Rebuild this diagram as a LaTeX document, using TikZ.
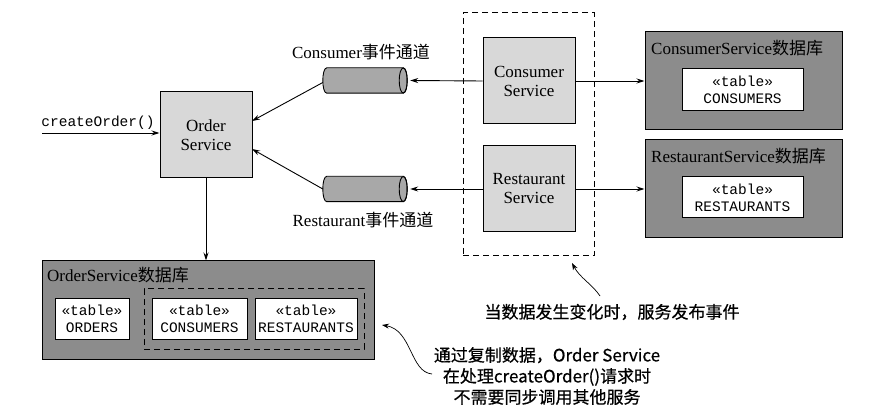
\documentclass[tikz,border=0pt]{standalone}
\usepackage{fontspec}
\setmainfont{Liberation Serif}
\setmonofont{Liberation Mono}
\newfontfamily\cjk{Noto Sans CJK SC}
\newfontfamily\cjkb[FakeBold=0.6]{Noto Sans CJK SC}
\usetikzlibrary{shapes.geometric,arrows.meta}
\definecolor{svcgray}{HTML}{D8D8D8}
\definecolor{dbgray}{HTML}{8C8C8C}
\definecolor{changray}{HTML}{A8A8A8}
\tikzset{
  svc/.style={draw, fill=svcgray, minimum width=92pt, minimum height=86pt, inner sep=0pt, align=center, font=\fontsize{17}{19}\selectfont, line width=1pt},
  dbbox/.style={draw, fill=dbgray, line width=1pt, inner sep=0pt},
  tbl/.style={draw, fill=white, inner sep=0pt, align=center, font=\ttfamily\fontsize{14.5}{17}\selectfont, line width=1pt},
  chan/.style={minimum width=84pt, minimum height=25pt, inner sep=0pt},
  cylline/.style={draw, fill=changray, line width=0.9pt},
  arr/.style={-{Stealth[length=8pt,width=5pt]}, line width=0.9pt},
  notearr/.style={-{Stealth[length=7pt,width=5pt]}, line width=0.7pt},
  lbl/.style={font=\fontsize{17}{19}\selectfont, inner sep=0pt},
  note/.style={font=\cjkb\fontsize{17}{21}\selectfont, align=center, inner sep=0pt},
  dashbox/.style={draw, dash pattern=on 6pt off 4pt, line width=1pt, inner sep=0pt}
}
\newcommand{\drawcyl}[1]{%
  \path[cylline] ([xshift=4pt]#1.north west) -- ([xshift=-4pt]#1.north east)
    .. controls ([xshift=1.33pt]#1.north east) and ([xshift=1.33pt]#1.south east) .. ([xshift=-4pt]#1.south east)
    -- ([xshift=4pt]#1.south west)
    .. controls ([xshift=-1.33pt]#1.south west) and ([xshift=-1.33pt]#1.north west) .. cycle;
  \draw[line width=0.9pt] ([xshift=-4pt]#1.east) ellipse [x radius=4pt, y radius=12.5pt];
}
\begin{document}
\begin{tikzpicture}[x=1pt,y=-1pt]
\useasboundingbox (0,0) rectangle (896,411);
% services
\node[svc] (os) at (206,135) {Order\\Service};
\node[dashbox, minimum width=131pt, minimum height=243pt] (grp) at (528.5,134.5) {};
\node[svc] (cs) at (529,81) {Consumer\\Service};
\node[svc] (rs) at (529,189) {Restaurant\\Service};
% channels
\node[chan] (cc) at (365,80.5) {};
\node[chan] (rc) at (365,189) {};
\drawcyl{cc}
\drawcyl{rc}
\node[lbl] (ccl) at (361,52) {Consumer{\cjk 事件通道}};
\node[lbl] (rcl) at (363,220) {Restaurant{\cjk 事件通道}};
% consumer db
\node[dbbox, minimum width=197pt, minimum height=98pt] (cdb) at (743.5,81) {};
\node[lbl, anchor=west] (cdbl) at (651,48) {ConsumerService{\cjk 数据库}};
\node[tbl, minimum width=121pt, minimum height=42pt] (ct) at (742.5,90) {«table»\\CONSUMERS};
% restaurant db
\node[dbbox, minimum width=197pt, minimum height=98pt] (rdb) at (743.5,189) {};
\node[lbl, anchor=west] (rdbl) at (651,156) {RestaurantService{\cjk 数据库}};
\node[tbl, minimum width=121pt, minimum height=41pt] (rt) at (742.5,197.5) {«table»\\RESTAURANTS};
% order service db
\node[dbbox, minimum width=332pt, minimum height=98pt] (odb) at (208,310) {};
\node[lbl, anchor=west] (odbl) at (47,275) {OrderService{\cjk 数据库}};
\node[dashbox, minimum width=220pt, minimum height=60pt] (rep) at (254,319) {};
\node[tbl, minimum width=74pt, minimum height=40pt] (ot) at (92,319) {«table»\\ORDERS};
\node[tbl, minimum width=95pt, minimum height=40pt] (oct) at (199.5,319) {«table»\\CONSUMERS};
\node[tbl, minimum width=102pt, minimum height=40pt] (ort) at (306,319) {«table»\\RESTAURANTS};
% createOrder
\coordinate (in) at (42,133);
\node[font=\ttfamily\fontsize{14.5}{17}\selectfont, inner sep=0pt] (co) at (98,123) {createOrder()};
\draw[arr] (in) -- (os.west |- in);
% connectors
\draw[arr] (cs.west) -- ([xshift=3pt]cc.east);
\draw[arr] (rs.west) -- ([xshift=3pt]rc.east);
\draw[arr] (cs.east) -- (cdb.west |- cs.east);
\draw[arr] (rs.east) -- (rdb.west |- rs.east);
\draw[arr] ([yshift=-2pt]cc.west) -- (252,121);
\draw[arr] (rc.west) -- (252,149);
\draw[arr] (os.south) -- (odb.north -| os.south);
% notes
\node[note] (n1) at (612,312) {当数据发生变化时，服务发布事件};
\node[note] (n2) at (547,376) {通过复制数据，Order Service\\在处理createOrder()请求时\\不需要同步调用其他服务};
\coordinate (n1s) at (600,296);
\coordinate (n2s) at (432,374);
\draw[notearr] (n1s) .. controls (592,284) and (580,278) .. (572,263);
\draw[notearr] (n2s) .. controls (410,372) and (412,330) .. (382,325);
\end{tikzpicture}
\end{document}
